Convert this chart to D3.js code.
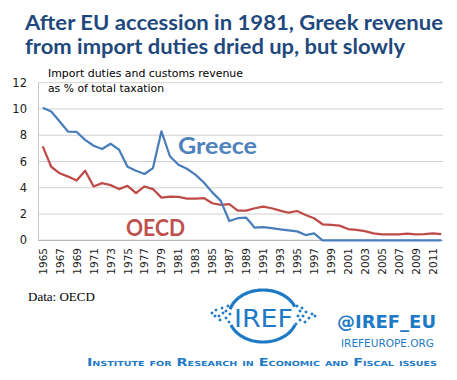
<!DOCTYPE html>
<html><head><meta charset="utf-8">
<script src="https://cdn.jsdelivr.net/npm/d3@7"></script>
<style>body{margin:0;background:#fff}svg{display:block}</style>
</head><body>
<script>
const years = d3.range(1965, 2013);
const greece = [10.1,9.8,9.05,8.27,8.25,7.65,7.2,6.95,7.35,6.9,5.6,5.3,5.05,5.5,8.3,6.4,5.75,5.45,5.0,4.4,3.65,3.0,1.47,1.68,1.72,0.96,1.0,0.92,0.83,0.75,0.68,0.4,0.53,0,0,0,0,0,0,0,0,0,0,0,0,0,0,0];
const oecd = [7.15,5.6,5.1,4.85,4.55,5.3,4.1,4.35,4.2,3.9,4.15,3.6,4.1,3.9,3.25,3.33,3.3,3.18,3.18,3.22,2.82,2.7,2.75,2.26,2.26,2.44,2.57,2.44,2.26,2.1,2.23,1.93,1.68,1.22,1.17,1.12,0.86,0.8,0.7,0.53,0.45,0.45,0.45,0.5,0.45,0.47,0.53,0.47];
const yTicks = [0,2,4,6,8,10,12];
const xTickYears = years.filter(y => (y - 1965) % 2 === 0);
const titleLines = ["After EU accession in 1981, Greek revenue", "from import duties dried up, but slowly"];
const subtitleLines = ["Import duties and customs revenue", "as % of total taxation"];

const W = 457, H = 380;
const svg = d3.select("body").append("svg").attr("width", W).attr("height", H);

const x = d3.scaleBand().domain(years).range([38.5, 445.5]);
const cx = d => x(d) + x.bandwidth() / 2;
const y = d3.scaleLinear().domain([0, 12]).range([240.3, 82.7]);

// gridlines
svg.append("g").selectAll("line").data(yTicks.filter(t => t > 0)).join("line")
  .attr("x1", 38.5).attr("x2", 443).attr("y1", d => y(d)).attr("y2", d => y(d))
  .attr("stroke", "#d0d0d0").attr("stroke-width", 1);

// axes lines
svg.append("line").attr("x1", 38.5).attr("x2", 38.5).attr("y1", y(12)).attr("y2", y(0)).attr("stroke", "#c8c8c8");
svg.append("line").attr("x1", 38.5).attr("x2", 443).attr("y1", y(0)).attr("y2", y(0)).attr("stroke", "#a6a6a6");

// y labels
svg.append("g").selectAll("text").data(yTicks).join("text")
  .attr("x", 27).attr("y", d => y(d) + 4).attr("text-anchor", "end")
  .attr("font-family", "DejaVu Sans").attr("font-size", 11.5).attr("fill", "#222")
  .text(d => d);

// x labels
svg.append("g").selectAll("text").data(xTickYears).join("text")
  .attr("transform", d => `translate(${cx(d) + 4},248) rotate(-90)`)
  .attr("text-anchor", "end")
  .attr("font-family", "DejaVu Sans").attr("font-size", 10.5).attr("fill", "#222")
  .text(d => d);

const line = d3.line().x((d, i) => cx(years[i])).y(d => y(d));
svg.append("path").datum(oecd).attr("d", line).attr("fill", "none")
  .attr("stroke", "#be4b48").attr("stroke-width", 2.25).attr("stroke-linejoin", "round");
svg.append("path").datum(greece).attr("d", line).attr("fill", "none")
  .attr("stroke", "#4a7ebb").attr("stroke-width", 2.25).attr("stroke-linejoin", "round");

// series labels
svg.append("text").attr("x", 178).attr("y", 154).attr("font-family", "Lato").attr("font-weight", "bold")
  .attr("font-size", 22).attr("fill", "#4f81bd").attr("textLength", 79).attr("lengthAdjust", "spacingAndGlyphs").text("Greece");
svg.append("text").attr("x", 126).attr("y", 236).attr("font-family", "Lato").attr("font-weight", "bold")
  .attr("font-size", 22).attr("fill", "#c0504d").attr("textLength", 59).attr("lengthAdjust", "spacingAndGlyphs").text("OECD");

// title
const tw = [418, 380];
svg.append("g").selectAll("text").data(titleLines).join("text")
  .attr("x", 25).attr("y", (d, i) => 29.5 + i * 24.5)
  .attr("font-family", "Lato").attr("font-weight", "bold").attr("font-size", 21.5).attr("fill", "#1f497d")
  .attr("textLength", (d, i) => tw[i]).attr("lengthAdjust", "spacingAndGlyphs")
  .text(d => d);

// subtitle
const sw = [195, 116];
svg.append("g").selectAll("text").data(subtitleLines).join("text")
  .attr("x", 48).attr("y", (d, i) => 76.7 + i * 15)
  .attr("font-family", "DejaVu Sans").attr("font-size", 10.5).attr("fill", "#000")
  .attr("textLength", (d, i) => sw[i]).attr("lengthAdjust", "spacingAndGlyphs")
  .text(d => d);

// footer
svg.append("text").attr("x", 28).attr("y", 301).attr("font-family", "Liberation Serif").attr("font-size", 13).attr("fill", "#000").text("Data: OECD");

const blue = "#1f7ac6";
// logo ellipse arcs
const lg = svg.append("g");
const ecx = 263, ecy = 316, rx = 34, ry = 26;
function arcPath(a0, a1) {
  const pts = d3.range(a0, a1 + 0.001, 2).map(a => {
    const r = a * Math.PI / 180; return [ecx + rx * Math.cos(r), ecy + ry * Math.sin(r)];
  });
  return d3.line()(pts);
}
lg.append("path").attr("d", arcPath(195, 340)).attr("fill", "none").attr("stroke", blue).attr("stroke-width", 3.2);
lg.append("path").attr("d", arcPath(20, 160)).attr("fill", "none").attr("stroke", blue).attr("stroke-width", 3.2);
lg.append("text").attr("x", 234).attr("y", 327).attr("font-family", "DejaVu Sans").attr("font-size", 25)
  .attr("fill", blue).attr("textLength", 59).attr("lengthAdjust", "spacingAndGlyphs").text("IREF");
const dots = [[212,313],[216,310],[219,316],[222,308],[223,313],[226,318],[228,306],[226,311],[229,322],[220,320],[215,316],[230,314],
  [297,306],[300,311],[303,316],[306,312],[309,318],[312,314],[300,320],[305,322],[298,316],[315,316],[302,308],[296,324]];
lg.selectAll("rect").data(dots).join("rect")
  .attr("x", d => d[0] - 1.3).attr("y", d => d[1] - 1.3).attr("width", 2.6).attr("height", 2.6)
  .attr("transform", d => `rotate(45,${d[0]},${d[1]})`).attr("fill", blue);

svg.append("text").attr("x", 337).attr("y", 327.5).attr("font-family", "DejaVu Sans").attr("font-weight", "bold")
  .attr("font-size", 17).attr("fill", blue).attr("textLength", 99).attr("lengthAdjust", "spacingAndGlyphs").text("@IREF_EU");
svg.append("text").attr("x", 341).attr("y", 347).attr("font-family", "DejaVu Sans")
  .attr("font-size", 10).attr("fill", blue).attr("textLength", 93).attr("lengthAdjust", "spacingAndGlyphs").text("IREFEUROPE.ORG");
svg.append("text").attr("x", 87).attr("y", 365.5).attr("font-family", "DejaVu Sans").attr("font-weight", "bold")
  .attr("font-size", 10.5).attr("font-variant", "small-caps").attr("fill", blue)
  .attr("textLength", 350).attr("lengthAdjust", "spacingAndGlyphs").text("Institute for Research in Economic and Fiscal issues");
</script>
</body></html>
